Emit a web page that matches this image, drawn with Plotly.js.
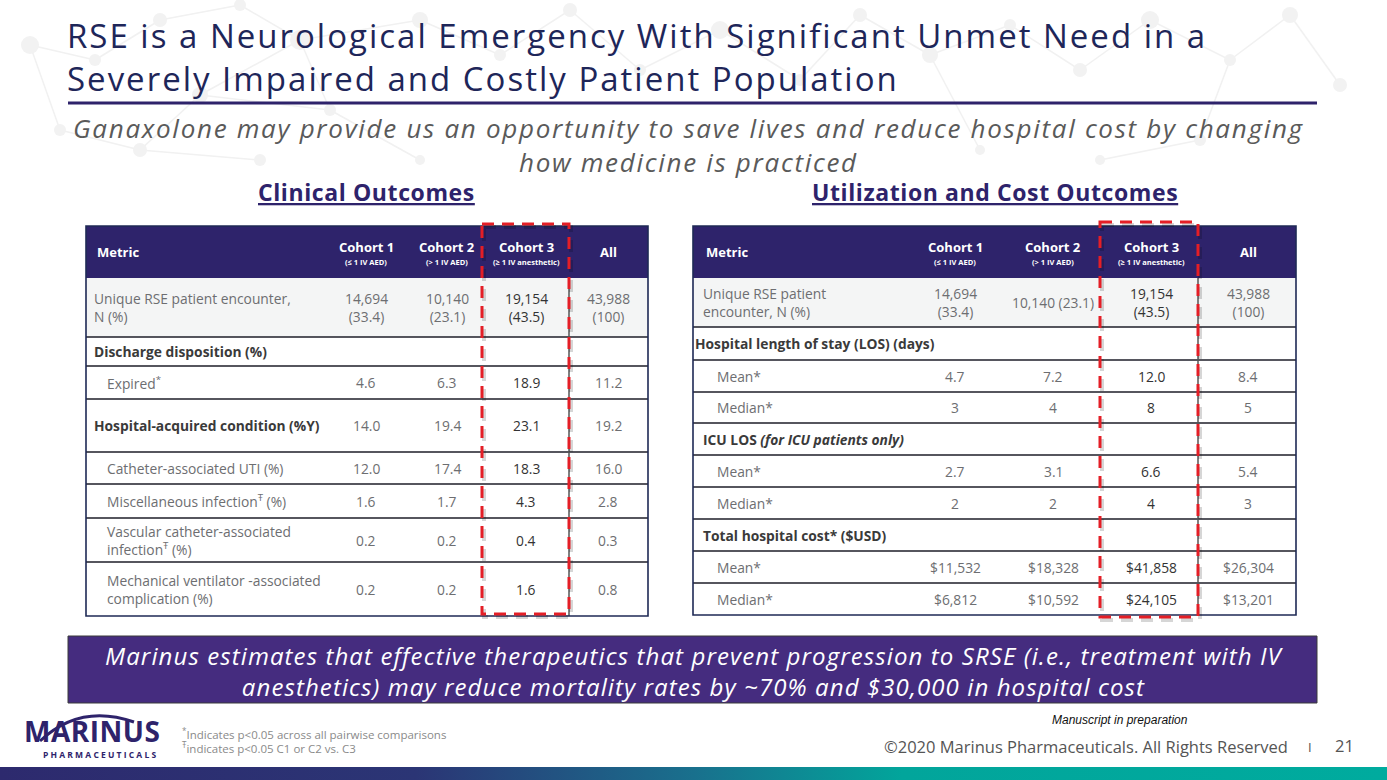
<!DOCTYPE html>
<html>
<head>
<meta charset="utf-8">
<script src="https://cdn.plot.ly/plotly-3.0.1.min.js"></script>
<style>html,body{margin:0;padding:0;background:#fff;}#chart{width:1387px;height:780px;}</style>
</head>
<body>
<div id="chart"></div>
<script>
// ---------------- DATA ----------------
const slideTitle1 = "RSE is a Neurological Emergency With Significant Unmet Need in a";
const slideTitle2 = "Severely Impaired and Costly Patient Population";
const subtitle1 = "Ganaxolone may provide us an opportunity to save lives and reduce hospital cost by changing";
const subtitle2 = "how medicine is practiced";
const leftHeading = "Clinical Outcomes";
const rightHeading = "Utilization and Cost Outcomes";

const metricHeader = "Metric";
const cohortNames = ["Cohort 1", "Cohort 2", "Cohort 3", "All"];
const cohortSubs = ["(≤ 1 IV AED)", "(> 1 IV AED)", "(≥ 1 IV anesthetic)", ""];

const clinMetrics = [
  "Unique RSE patient encounter,<br>N (%)",
  "Discharge disposition (%)",
  "Expired<sup>*</sup>",
  "Hospital-acquired condition (%Y)",
  "Catheter-associated UTI (%)",
  "Miscellaneous infection<sup>Ŧ</sup> (%)",
  "Vascular catheter-associated<br>infection<sup>Ŧ</sup> (%)",
  "Mechanical ventilator -associated<br>complication (%)"
];
const clinCohort1 = ["14,694<br>(33.4)", "", "4.6", "14.0", "12.0", "1.6", "0.2", "0.2"];
const clinCohort2 = ["10,140<br>(23.1)", "", "6.3", "19.4", "17.4", "1.7", "0.2", "0.2"];
const clinCohort3 = ["19,154<br>(43.5)", "", "18.9", "23.1", "18.3", "4.3", "0.4", "1.6"];
const clinAll     = ["43,988<br>(100)", "", "11.2", "19.2", "16.0", "2.8", "0.3", "0.8"];

const utilMetrics = [
  "Unique RSE patient<br>encounter, N (%)",
  "Hospital length of stay (LOS) (days)",
  "Mean*",
  "Median*",
  "ICU LOS <i>(for ICU patients only)</i>",
  "Mean*",
  "Median*",
  "Total hospital cost* ($USD)",
  "Mean*",
  "Median*"
];
const utilCohort1 = ["14,694<br>(33.4)", "", "4.7", "3", "", "2.7", "2", "", "$11,532", "$6,812"];
const utilCohort2 = ["10,140 (23.1)", "", "7.2", "4", "", "3.1", "2", "", "$18,328", "$10,592"];
const utilCohort3 = ["19,154<br>(43.5)", "", "12.0", "8", "", "6.6", "4", "", "$41,858", "$24,105"];
const utilAll     = ["43,988<br>(100)", "", "8.4", "5", "", "5.4", "3", "", "$26,304", "$13,201"];

const bannerText1 = "Marinus estimates that effective therapeutics that prevent progression to SRSE (i.e., treatment with IV";
const bannerText2 = "anesthetics) may reduce mortality rates by ~70% and $30,000 in hospital cost";
const footnote1 = "<sup>*</sup>Indicates p&lt;0.05 across all pairwise comparisons";
const footnote2 = "<sup>Ŧ</sup>indicates p&lt;0.05 C1 or C2 vs. C3";
const sourceNote = "Manuscript in preparation";
const copyrightText = "©2020 Marinus Pharmaceuticals. All Rights Reserved";
const pageNumber = "21";
const logoName = "MARINUS";
const logoSub = "PHARMACEUTICALS";

// ---------------- LAYOUT / STYLE ----------------
const W = 1387, H = 780;
const FONT = "Open Sans, sans-serif";
const NAVY = "#2E236B";
const TITLE_COL = "#1E2659";
const GRAY_TXT = "#6D6E71";
const DARK_TXT = "#3A3A3A";
const RED = "#E41E26";
const CELL_SIZE = 13.8;

function spaced(t, px) { return '<span style="letter-spacing:' + px + 'px">' + t + '</span>'; }

const leftCfg = {
  x0: 86, x1: 648, yTop: 226,
  edges: [278, 337, 366, 399, 452, 484, 518, 562, 616],
  colX: [366, 447, 526, 608],
  kinds: ["top", "sec", "sub", "sec", "sub", "sub", "sub", "sub"],
  indent: {top: 93, sec: 93, sub: 106},
  metricHeaderX: 96,
  sepX: 569,
  box: [482, 224, 569, 614],
  metrics: clinMetrics,
  cols: [clinCohort1, clinCohort2, clinCohort3, clinAll]
};
const rightCfg = {
  x0: 693, x1: 1296, yTop: 226,
  edges: [278, 327, 360, 392, 423, 455, 487, 519, 551, 583, 615],
  colX: [955, 1053, 1151, 1248],
  kinds: ["top", "sec0", "sub", "sub", "sec", "sub", "sub", "sec", "sub", "sub"],
  indent: {top: 702, sec0: 694, sec: 702, sub: 716},
  metricHeaderX: 705,
  sepX: 1198,
  box: [1100, 222, 1198, 617],
  metrics: utilMetrics,
  cols: [utilCohort1, utilCohort2, utilCohort3, utilAll]
};

const shapes = [];
const annotations = [];

// f: {size, color, weight, style, family, lineposition}
function ann(text, x, y, f, opts) {
  const font = {family: f.family || FONT, size: f.size, color: f.color,
    weight: f.weight || "normal", style: f.style || "normal"};
  if (f.lineposition) font.lineposition = f.lineposition;
  annotations.push(Object.assign({
    text: text, x: x, y: y, xref: "x", yref: "y", showarrow: false,
    xanchor: "left", yanchor: "middle", borderpad: 0, font: font
  }, opts || {}));
}

function buildTable(c) {
  const yBot = c.edges[c.edges.length - 1];
  shapes.push({type: "rect", xref: "x", yref: "y", x0: c.x0, x1: c.x1, y0: c.yTop, y1: c.edges[0],
    fillcolor: NAVY, line: {width: 0}, layer: "below"});
  shapes.push({type: "rect", xref: "x", yref: "y", x0: c.x0, x1: c.x1, y0: c.edges[0], y1: c.edges[1],
    fillcolor: "#F4F5F5", line: {width: 0}, layer: "below"});
  for (let i = 1; i < c.edges.length - 1; i++) {
    shapes.push({type: "line", xref: "x", yref: "y", x0: c.x0, x1: c.x1, y0: c.edges[i], y1: c.edges[i],
      line: {color: "#1E1E28", width: 1.6}});
  }
  shapes.push({type: "line", xref: "x", yref: "y", x0: c.sepX, x1: c.sepX, y0: c.edges[0], y1: yBot,
    line: {color: "#555", width: 1.5}});
  shapes.push({type: "rect", xref: "x", yref: "y", x0: c.x0, x1: c.x1, y0: c.yTop, y1: yBot,
    line: {color: "#1F2A55", width: 1.6}});
  const b = c.box;
  shapes.push({type: "rect", xref: "x", yref: "y", x0: b[0] + 2, x1: b[2] + 2, y0: b[1] + 3, y1: b[3] + 3,
    line: {color: "rgba(0,0,0,0.16)", width: 4, dash: "12px,8px"}});
  shapes.push({type: "rect", xref: "x", yref: "y", x0: b[0], x1: b[2], y0: b[1], y1: b[3],
    line: {color: RED, width: 3, dash: "12px,8px"}});

  const hy = (c.yTop + c.edges[0]) / 2;
  ann(metricHeader, c.metricHeaderX, hy, {size: 13, color: "#fff", weight: "bold"});
  for (let k = 0; k < cohortNames.length; k++) {
    if (cohortSubs[k]) {
      ann(cohortNames[k], c.colX[k], hy - 5, {size: 13, color: "#fff", weight: "bold"}, {xanchor: "center"});
      ann(cohortSubs[k], c.colX[k], hy + 9.5, {size: 7.5, color: "#fff", weight: "bold"}, {xanchor: "center"});
    } else {
      ann(cohortNames[k], c.colX[k], hy, {size: 13, color: "#fff", weight: "bold"}, {xanchor: "center"});
    }
  }

  for (let i = 0; i < c.metrics.length; i++) {
    const yc = (c.edges[i] + c.edges[i + 1]) / 2;
    const sec = c.kinds[i].indexOf("sec") === 0;
    ann(c.metrics[i], c.indent[c.kinds[i]], yc,
      {size: CELL_SIZE, color: sec ? DARK_TXT : GRAY_TXT, weight: sec ? "bold" : "normal"}, {align: "left"});
    for (let k = 0; k < c.cols.length; k++) {
      const v = c.cols[k][i];
      if (v === "") continue;
      ann(v, c.colX[k], yc, {size: CELL_SIZE, color: k === 2 ? "#333333" : GRAY_TXT},
        {xanchor: "center", align: "center"});
    }
  }
}

buildTable(leftCfg);
buildTable(rightCfg);

// Title
ann(spaced(slideTitle1 + "<br>" + slideTitle2, 2.0), 66, 57, {size: 33, color: TITLE_COL}, {align: "left"});
shapes.push({type: "line", xref: "x", yref: "y", x0: 68, x1: 1317, y0: 103, y1: 103, line: {color: NAVY, width: 3}});
// Subtitle
ann(spaced(subtitle1 + "<br>" + subtitle2, 1.7), 688, 145, {size: 26, color: "#5A5A5A", style: "italic"},
  {xanchor: "center", align: "center"});
// Headings
ann(spaced(leftHeading, 0.6), 366, 192, {size: 23, color: NAVY, weight: "bold", lineposition: "under"}, {xanchor: "center"});
ann(spaced(rightHeading, 0.6), 995, 192, {size: 23, color: NAVY, weight: "bold", lineposition: "under"}, {xanchor: "center"});

// Banner
shapes.push({type: "rect", xref: "x", yref: "y", x0: 68, x1: 1317, y0: 636, y1: 703,
  fillcolor: "#452C7F", line: {color: "#3A3A3A", width: 1}});
ann(spaced(bannerText1 + "<br>" + bannerText2, 1.1), 694, 671, {size: 24, color: "#fff", style: "italic"},
  {xanchor: "center", align: "center"});

// Footnotes
ann(footnote1, 181, 733, {size: 11.5, color: "#8A8A8A"});
ann(footnote2, 181, 747, {size: 11.5, color: "#8A8A8A"});
ann(sourceNote, 1120, 720, {size: 12, color: "#111", style: "italic", family: "Liberation Sans, Arial"}, {xanchor: "center"});
ann(copyrightText, 1289, 746, {size: 16.5, color: "#555"}, {xanchor: "right"});
ann("I", 1310, 747, {size: 13, color: "#555"}, {xanchor: "center"});
ann(pageNumber, 1344, 745, {size: 16.5, color: "#555"}, {xanchor: "center"});

// Logo
ann(spaced(logoName, 0.5), 92, 751, {size: 28, color: NAVY, weight: "bold"}, {xanchor: "center", yanchor: "bottom"});
ann(spaced(logoSub, 2.2), 100, 748, {size: 8.5, color: NAVY, weight: "bold"}, {xanchor: "center", yanchor: "top"});
shapes.push({type: "path", xref: "x", yref: "y", path: "M 40 741 Q 80 703 134 722",
  line: {color: NAVY, width: 3}, fillcolor: "rgba(0,0,0,0)"});

// Decorations: bottom gradient bar and faint network background
const gradSvg = '<svg xmlns="http://www.w3.org/2000/svg" width="1387" height="13" preserveAspectRatio="none">' +
  '<defs><linearGradient id="g" x1="0" y1="0" x2="1" y2="0">' +
  '<stop offset="0" stop-color="#2D2A6E"/><stop offset="0.3" stop-color="#2B3575"/>' +
  '<stop offset="0.5" stop-color="#19708D"/><stop offset="0.65" stop-color="#02A59B"/>' +
  '<stop offset="1" stop-color="#00AB9E"/></linearGradient></defs>' +
  '<rect width="1387" height="13" fill="url(#g)"/></svg>';

const netNodes = [[30,45,9],[95,60,6],[160,20,7],[240,5,6],[300,40,10],[200,95,8],[140,150,7],[260,160,6],
  [330,110,6],[420,20,8],[500,55,6],[570,10,7],[640,70,6],[720,30,9],[800,80,6],[860,15,7],[930,55,8],
  [1010,25,6],[1080,70,7],[1150,20,9],[1230,60,6],[1290,15,8],[1340,85,7],[1200,140,6],[1100,160,5],
  [60,130,6],[420,160,5],[980,150,5]];
const netEdges = [[0,1],[1,2],[2,3],[3,4],[4,5],[5,6],[6,7],[5,8],[8,4],[4,9],[9,10],[10,11],[11,12],[12,13],
  [13,14],[14,15],[15,16],[16,17],[17,18],[18,19],[19,20],[20,21],[21,22],[20,23],[23,24],[0,25],[25,6],[8,26],[16,27]];
let netSvg = '<svg xmlns="http://www.w3.org/2000/svg" width="1387" height="200">';
netEdges.forEach(e => {
  const a = netNodes[e[0]], b = netNodes[e[1]];
  netSvg += '<line x1="' + a[0] + '" y1="' + a[1] + '" x2="' + b[0] + '" y2="' + b[1] + '" stroke="#F1F1F1" stroke-width="1.5"/>';
});
netNodes.forEach(n => { netSvg += '<circle cx="' + n[0] + '" cy="' + n[1] + '" r="' + n[2] + '" fill="#F2F2F2"/>'; });
netSvg += '</svg>';

const layout = {
  width: W, height: H, autosize: false,
  margin: {l: 0, r: 0, t: 0, b: 0, pad: 0},
  paper_bgcolor: "#ffffff", plot_bgcolor: "rgba(0,0,0,0)",
  showlegend: false,
  xaxis: {range: [0, W], visible: false, fixedrange: true},
  yaxis: {range: [H, 0], visible: false, fixedrange: true},
  shapes: shapes,
  annotations: annotations,
  images: [{
    source: "data:image/svg+xml;charset=utf-8," + encodeURIComponent(gradSvg),
    xref: "paper", yref: "paper", x: 0, y: 13 / H, sizex: 1, sizey: 13 / H,
    xanchor: "left", yanchor: "top", sizing: "stretch", layer: "above"
  }, {
    source: "data:image/svg+xml;charset=utf-8," + encodeURIComponent(netSvg),
    xref: "paper", yref: "paper", x: 0, y: 1, sizex: 1, sizey: 200 / H,
    xanchor: "left", yanchor: "top", sizing: "stretch", layer: "below"
  }]
};

Plotly.newPlot("chart", [], layout, {staticPlot: true, displayModeBar: false});
</script>
</body>
</html>
